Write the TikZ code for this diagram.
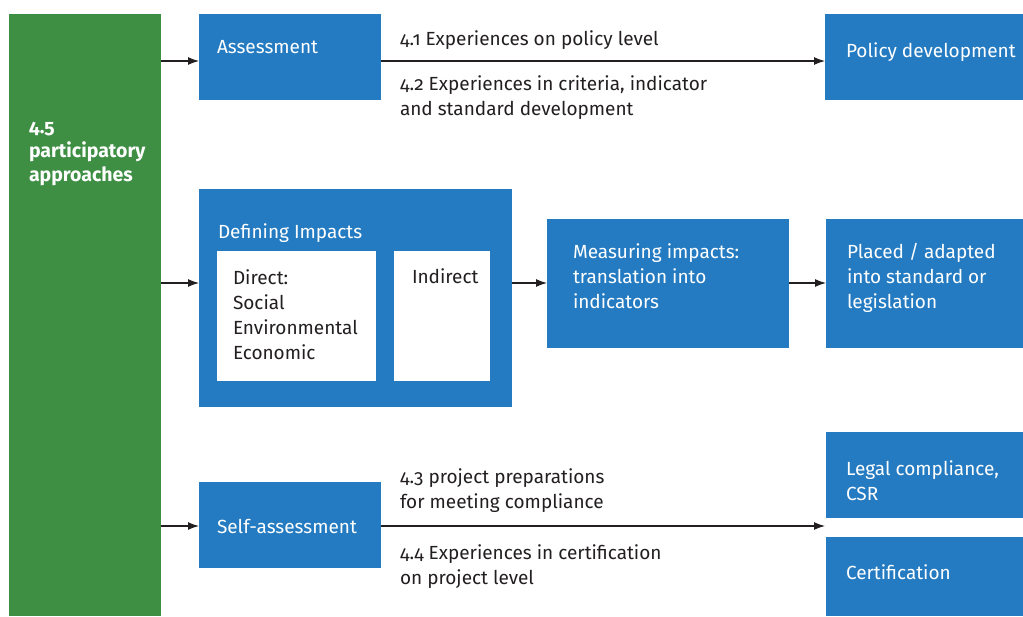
\documentclass[tikz,border=0pt]{standalone}
\usepackage{fontspec}
\setmainfont{Fira Sans}[Numbers=OldStyle]
\usetikzlibrary{arrows.meta}
\definecolor{rgreen}{RGB}{62,142,68}
\definecolor{rblue}{RGB}{36,123,193}
\definecolor{rtext}{RGB}{35,31,32}
\begin{document}
\begin{tikzpicture}[x=1pt,y=-1pt,
  box/.style={fill=rblue, draw=none, anchor=north west, inner sep=0pt, outer sep=0pt},
  gbox/.style={fill=rgreen, draw=none, anchor=north west, inner sep=0pt, outer sep=0pt},
  wbox/.style={fill=white, draw=none, anchor=north west, inner sep=0pt, outer sep=0pt},
  txt/.style={anchor=base west, inner sep=0pt, outer sep=0pt, align=left, font=\fontsize{19}{25}\selectfont},
  wtxt/.style={txt, text=white},
  dtxt/.style={txt, text=rtext},
  conn/.style={draw=rtext, line width=1.1pt, -{Latex[length=11pt,width=8pt]}}]
\useasboundingbox (0,0) rectangle (1023,616);

% boxes
\node[gbox, minimum width=152pt, minimum height=602pt] (green) at (9,14) {};
\node[box, minimum width=182pt, minimum height=86pt] (assess) at (199,14) {};
\node[box, minimum width=198pt, minimum height=86pt] (policy) at (825,14) {};
\node[box, minimum width=313pt, minimum height=218pt] (defining) at (199,189) {};
\node[wbox, minimum width=159pt, minimum height=130pt] (direct) at (217,251) {};
\node[wbox, minimum width=96pt, minimum height=130pt] (indirect) at (394,251) {};
\node[box, minimum width=242pt, minimum height=129pt] (measuring) at (547,219) {};
\node[box, minimum width=197pt, minimum height=129pt] (placed) at (826,219) {};
\node[box, minimum width=182pt, minimum height=86pt] (self) at (199,482) {};
\node[box, minimum width=197pt, minimum height=86pt] (legal) at (826,432) {};
\node[box, minimum width=197pt, minimum height=79pt] (cert) at (826,537) {};

% texts (anchor = baseline of the last line)
\node[wtxt, font=\fontsize{19.5}{24}\selectfont\bfseries] (tgreen) at (29,181) {4.5\\participatory\\approaches};
\node[wtxt] (tassess) at (217,53) {Assessment};
\node[wtxt] (tpolicy) at (846,57) {Policy development};
\node[wtxt] (tdefining) at (218,238) {Defining Impacts};
\node[dtxt] (tdirect) at (233,359) {Direct:\\Social\\Environmental\\Economic};
\node[dtxt] (tindirect) at (412,283) {Indirect};
\node[wtxt] (tmeasuring) at (573,308) {Measuring impacts:\\translation into\\indicators};
\node[wtxt] (tplaced) at (847,308) {Placed / adapted\\into standard or\\legislation};
\node[wtxt] (tself) at (217,533) {Self-assessment};
\node[wtxt] (tlegal) at (846,500) {Legal compliance,\\CSR};
\node[wtxt] (tcert) at (846,579) {Certification};

\node[dtxt] (l41) at (400,45) {4.1 Experiences on policy level};
\node[dtxt] (l42) at (400,115) {4.2 Experiences in criteria, indicator\\and standard development};
\node[dtxt] (l43) at (400,508) {4.3 project preparations\\for meeting compliance};
\node[dtxt] (l44) at (400,584) {4.4 Experiences in certification\\on project level};

% connector ports
\coordinate (aIn) at ([yshift=-47pt]assess.north west);
\coordinate (aOut) at ([yshift=-47pt]assess.north east);
\coordinate (pIn) at ([yshift=-47pt]policy.north west);
\coordinate (dIn) at ([yshift=-94pt]defining.north west);
\coordinate (dOut) at ([yshift=-94pt]defining.north east);
\coordinate (mIn) at ([yshift=-64pt]measuring.north west);
\coordinate (mOut) at ([yshift=-64pt]measuring.north east);
\coordinate (plIn) at ([yshift=-64pt]placed.north west);
\coordinate (sIn) at ([yshift=-44pt]self.north west);
\coordinate (sOut) at ([yshift=-44pt]self.north east);
\coordinate (tgt) at (825,526);

% connectors
\draw[conn] (green.east |- aIn) -- (aIn);
\draw[conn] (aOut) -- (pIn);
\draw[conn] (green.east |- dIn) -- (dIn);
\draw[conn] (dOut) -- (mIn);
\draw[conn] (mOut) -- (plIn);
\draw[conn] (green.east |- sIn) -- (sIn);
\draw[conn] (sOut) -- (tgt);
\end{tikzpicture}
\end{document}
